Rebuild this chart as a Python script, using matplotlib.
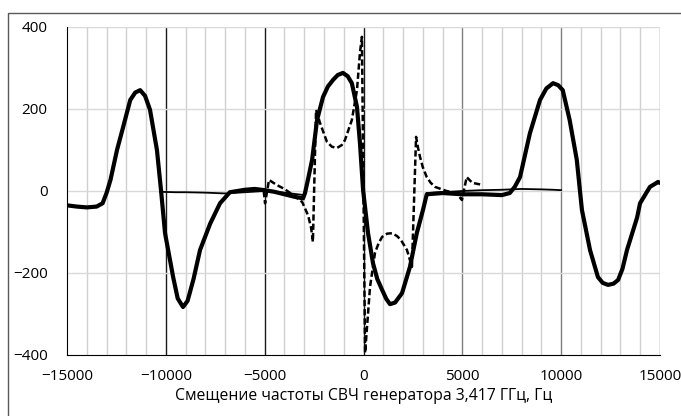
import numpy as np
import matplotlib
matplotlib.use('Agg')
import matplotlib.pyplot as plt
from matplotlib.patches import Rectangle

plt.rcParams['font.family'] = ['Open Sans', 'DejaVu Sans']

# wide noisy trace (full scan)
wide_x = [-15000, -14500, -14000, -13500, -13200, -13000, -12800, -12470, -12160, -11800,
          -11550, -11300, -11050, -10800, -10450, -10240, -10040, -9630, -9400, -9130,
          -8900, -8600, -8270, -7760, -7260, -6760, -6000, -5500, -5000, -4500,
          -4000, -3500, -3060, -2960, -2800, -2600, -2350, -2050, -1800, -1540,
          -1300, -1040, -800, -590, -330, -180, -20, 230, 480, 700,
          940, 1150, 1340, 1600, 1950, 2350, 2700, 3010, 3200, 4000,
          5000, 6000, 7000, 7400, 7650, 7920, 8260, 8420, 8930, 9250,
          9590, 9850, 10080, 10430, 10790, 11050, 11460, 11860, 12100, 12370,
          12650, 12880, 13100, 13330, 13840, 13990, 14490, 14900, 15000]
wide_y = [-35, -38, -40, -38, -30, -5, 27, 100, 156, 222,
          240, 246, 232, 198, 100, 0, -103, -210, -262, -283,
          -268, -215, -144, -80, -30, -3, 3, 5, 2, -2,
          -8, -14, -18, -5, 30, 76, 173, 229, 255, 271,
          283, 288, 280, 263, 205, 117, 2, -103, -176, -215,
          -241, -263, -276, -272, -249, -185, -102, -46, -8, -5,
          -8, -8, -10, -5, 10, 34, 107, 141, 222, 250,
          263, 258, 246, 173, 76, -46, -144, -210, -224, -229,
          -226, -217, -190, -144, -65, -30, 10, 22, 20]

# thin trace, visible only on the flanks
thin_x = [-10300, -9500, -9000, -8000, -7000, -6000, -5000, -4000, -3000,
          np.nan, 3200, 4000, 5000, 6000, 7000, 8000, 9000, 9600, 10000]
thin_y = [-2, -3, -3, -4, -6, -3, 0, -4, -10,
          np.nan, -5, -3, 0, 2, 3, 5, 4, 3, 2]

# narrow dashed trace
dash_x = [-5050, -4980, -4780, -4400, -4000, -3500, -3100, -2800, -2650, -2560,
          -2400, -2200, -1850, -1600, -1340, -1100, -940, -590, -330, -180,
          -80, 80, 330, 580, 760, 940, 1200, 1440, 1700, 1900,
          2200, 2450, 2660, 2760, 2860, 3000, 3200, 3400, 3620, 4200,
          4700, 4980, 5220, 5500, 6000]
dash_y = [0, -30, 27, 15, 5, -12, -27, -60, -90, -124,
          198, 166, 120, 108, 105, 112, 124, 173, 246, 337,
          376, -395, -234, -151, -128, -112, -104, -103, -110, -120,
          -144, -185, 132, 105, 83, 58, 34, 20, 10, 0,
          -5, -22, 34, 20, 15]

fig = plt.figure(figsize=(6.81, 4.16), dpi=100)
ax = fig.add_axes([67 / 681, 1 - 355 / 416, 593 / 681, 328 / 416])

# outer frame of the chart area
fig.patches.append(Rectangle((8 / 681, -0.5), 1.5, 1.5 - 13 / 416, transform=fig.transFigure,
                             fill=False, edgecolor='#595959', linewidth=1.0))

for gx in range(-14000, 15001, 1000):
    if gx % 5000 == 0:
        col = '#1a1a1a' if gx <= 0 else '#7f7f7f'
        ax.axvline(gx, color=col, linewidth=1.0, zorder=1)
    else:
        ax.axvline(gx, color='#d0d0d0', linewidth=1.0, zorder=1)
for gy in [-200, 0, 200, 400]:
    ax.axhline(gy, color='#d9d9d9', linewidth=1.0, zorder=1)

ax.plot(thin_x, thin_y, color='black', linewidth=1.3, zorder=3)
ax.plot(wide_x, wide_y, color='black', linewidth=3.0, zorder=4, solid_joinstyle='round')
ax.plot(dash_x, dash_y, color='black', linewidth=1.8, linestyle=(0, (2.5, 1.2)), zorder=5)

ax.set_xlim(-15000, 15000)
ax.set_ylim(-400, 400)
ax.set_xticks(range(-15000, 15001, 5000))
ax.set_yticks(range(-400, 401, 200))
ax.tick_params(axis='both', length=0, labelsize=11, colors='black')
ax.tick_params(axis='x', pad=10)
ax.tick_params(axis='y', pad=14)

for s in ['top', 'right']:
    ax.spines[s].set_visible(False)
ax.spines['left'].set_color('black')
ax.spines['bottom'].set_color('black')
ax.spines['left'].set_zorder(6)
ax.spines['bottom'].set_zorder(6)

ax.set_xlabel('Смещение частоты СВЧ генератора 3,417 ГГц, Гц', fontsize=11.3, labelpad=3)

fig.savefig('out.png', dpi=100)
